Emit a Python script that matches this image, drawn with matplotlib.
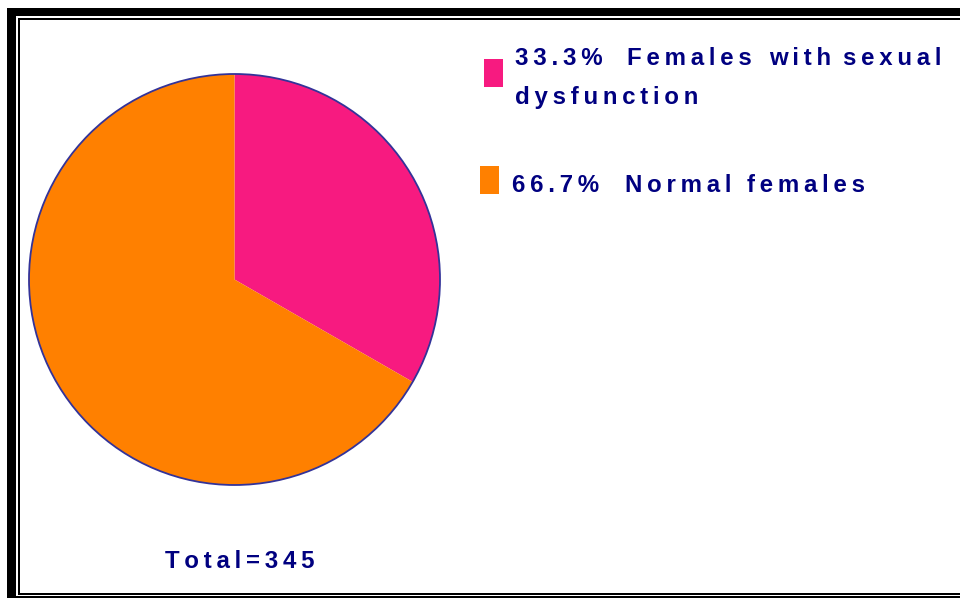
import matplotlib
matplotlib.use("Agg")
import matplotlib.pyplot as plt
from matplotlib.patches import Rectangle, Circle

# Data
labels = ["Females with sexual dysfunction", "Normal females"]
percents = [33.3, 66.7]
colors = ["#F71A80", "#FF8000"]
total = 345

W, H = 960, 598
fig = plt.figure(figsize=(W / 100, H / 100), dpi=100)
ax = fig.add_axes([0, 0, 1, 1])

def Y(py):
    return H - py

# Pie
cx, cy, r = 234.5, 279.5, 205.5
ax.pie(percents, colors=colors, startangle=90, counterclock=False,
       center=(cx, Y(cy)), radius=r, wedgeprops=dict(linewidth=0),
       frame=True)
ax.set_xlim(0, W)
ax.set_ylim(0, H)
ax.set_aspect("equal")
ax.axis("off")
ax.add_patch(Circle((cx, Y(cy)), r, fill=False, edgecolor="#333399",
                    linewidth=1.3, zorder=3))

# Frame
def bar(x0, y0, x1, y1):
    ax.add_patch(Rectangle((x0, Y(y1)), x1 - x0, y1 - y0, facecolor="black",
                           edgecolor="none", zorder=5))
bar(7, 8, 16, 598)        # left thick
bar(7, 8, 960, 16)        # top thick
bar(18, 18, 20, 594)      # left inner thin
bar(18, 18, 960, 20)      # top inner thin
bar(18, 592.5, 960, 595)  # bottom inner
bar(16, 596, 960, 597.5)  # bottom outer

TS = "\u2009"
def track(s):
    return TS.join(list(s))

font = dict(family=["Liberation Sans", "DejaVu Sans"], fontweight="bold",
            color="#000080", fontsize=17.3)

def words(xs, baseline, ws):
    for x, w in zip(xs, ws):
        ax.text(x, Y(baseline), track(w), ha="left", va="baseline", **font)

# Legend
ax.add_patch(Rectangle((484, Y(87)), 19, 28, facecolor=colors[0], edgecolor="none"))
ax.add_patch(Rectangle((480, Y(194)), 19, 28, facecolor=colors[1], edgecolor="none"))

l1 = labels[0].split()
words([515, 627, 769, 843], 65, [f"{percents[0]:.1f}%"] + l1[:3])
words([515], 104, l1[3:])
words([512, 625, 747], 192, [f"{percents[1]:.1f}%"] + labels[1].split())

ax.text(165, Y(568), track(f"Total={total}"), ha="left", va="baseline", **font)

fig.savefig("out.png", dpi=100)
